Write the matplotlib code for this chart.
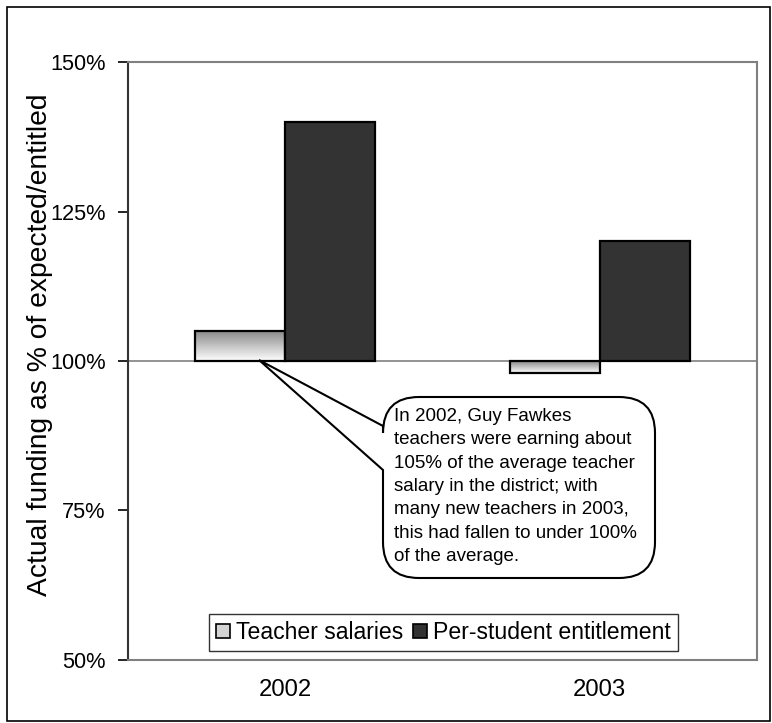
#!/usr/bin/env python3
"""
Guy Fawkes funding chart: actual funding as % of expected/entitled
"""
import numpy as np
import matplotlib
matplotlib.use('Agg')
import matplotlib.pyplot as plt
from matplotlib.patches import Rectangle, Patch, PathPatch
from matplotlib.path import Path
from matplotlib.transforms import Affine2D

plt.rcParams.update({'font.family': ['Liberation Sans', 'DejaVu Sans']})

W, H = 772, 723

# data
years = ['2002', '2003']
teacher_salaries = [105, 98]
per_student = [140, 120]
series_labels = ['Teacher salaries', 'Per-student entitlement']
yticks = [50, 75, 100, 125, 150]
note = ("In 2002, Guy Fawkes\nteachers were earning about\n105% of the average teacher\n"
        "salary in the district; with\nmany new teachers in 2003,\nthis had fallen to under 100%\n"
        "of the average.")

fig = plt.figure(figsize=(W / 100, H / 100), dpi=100)
# pixel coords (origin top-left) -> figure
px = Affine2D().scale(1, -1).translate(0, H).scale(1 / W, 1 / H) + fig.transFigure

ax = fig.add_axes([128 / W, 1 - 660 / H, (757 - 128) / W, (660 - 62) / H])

x = np.arange(len(years))
bw = 0.286
base = 100

# gradient for teacher bars
grad = np.linspace(0, 1, 256).reshape(-1, 1)
gcmap = matplotlib.colors.LinearSegmentedColormap.from_list('g', ['#ffffff', '#8a8a8a'])

for xi, v in zip(x, teacher_salaries):
    r = ax.bar(xi - bw / 2, v - base, bw, bottom=base, color='none',
               edgecolor='black', lw=1.6, zorder=4)[0]
    lo, hi = min(base, v), max(base, v)
    im = ax.imshow(grad, cmap=gcmap, aspect='auto', origin='lower',
                   extent=[xi - bw, xi, lo, hi], zorder=3)
    im.set_clip_path(r)

ax.bar(x + bw / 2, np.array(per_student) - base, bw, bottom=base,
       color='#333333', edgecolor='black', lw=1.6, zorder=4)

ax.axhline(base, color='#808080', lw=1.2, zorder=2)

ax.set_xlim(-0.5, 1.5)
ax.set_ylim(50, 150)
ax.set_yticks(yticks)
ax.set_yticklabels([f'{t}%' for t in yticks], fontsize=15.7)
ax.set_xticks(x)
ax.set_xticklabels(years, fontsize=17.2)
ax.tick_params(axis='x', length=0, pad=14)
ax.tick_params(axis='y', length=7, width=1.2, pad=9, color='black')
for s in ['top', 'right', 'bottom']:
    ax.spines[s].set_color('#808080')
    ax.spines[s].set_linewidth(1.5)
ax.spines['left'].set_color('#333333')
ax.spines['left'].set_linewidth(1.5)

fig.text(40 / W, 1 - 345 / H, 'Actual funding as % of expected/entitled',
         rotation=90, ha='center', va='center', fontsize=20.3)

# legend
handles = [Patch(facecolor='#d4d4d4', edgecolor='black', lw=1.2),
           Patch(facecolor='#333333', edgecolor='black', lw=1.2)]
leg = fig.legend(handles, series_labels, loc='center',
                 bbox_to_anchor=(443.5 / W, 1 - 632.5 / H), ncol=2, fontsize=16.6,
                 frameon=True, fancybox=False, edgecolor='black',
                 handlelength=0.6, handleheight=0.6, handletextpad=0.25,
                 columnspacing=0.45, borderpad=0.3, borderaxespad=0)
leg.get_frame().set_linewidth(1.0)

# callout bubble
L, R, T, B, rad = 383, 655, 397, 578, 36
tip = (259, 360)
w1, w2 = 426, 470
verts = [(L + rad, T), (R - rad, T), (R, T), (R, T + rad),
         (R, B - rad), (R, B), (R - rad, B),
         (L + rad, B), (L, B), (L, B - rad),
         (L, w2), tip, (L, w1),
         (L, T + rad), (L, T), (L + rad, T), (L + rad, T)]
codes = [Path.MOVETO, Path.LINETO, Path.CURVE3, Path.CURVE3,
         Path.LINETO, Path.CURVE3, Path.CURVE3,
         Path.LINETO, Path.CURVE3, Path.CURVE3,
         Path.LINETO, Path.LINETO, Path.LINETO,
         Path.LINETO, Path.CURVE3, Path.CURVE3, Path.CLOSEPOLY]
bubble = PathPatch(Path(verts, codes), transform=px, facecolor='white',
                   edgecolor='black', lw=1.5, zorder=5)
fig.patches.append(bubble)
fig.text(394 / W, 1 - 408 / H, note, ha='left', va='top', fontsize=13.5,
         linespacing=1.49, zorder=6)

# outer frame
fig.patches.append(Rectangle((7, 7), 763, 714, transform=px, fill=False,
                             edgecolor='black', lw=1.2))

fig.savefig('out.png', dpi=100)
